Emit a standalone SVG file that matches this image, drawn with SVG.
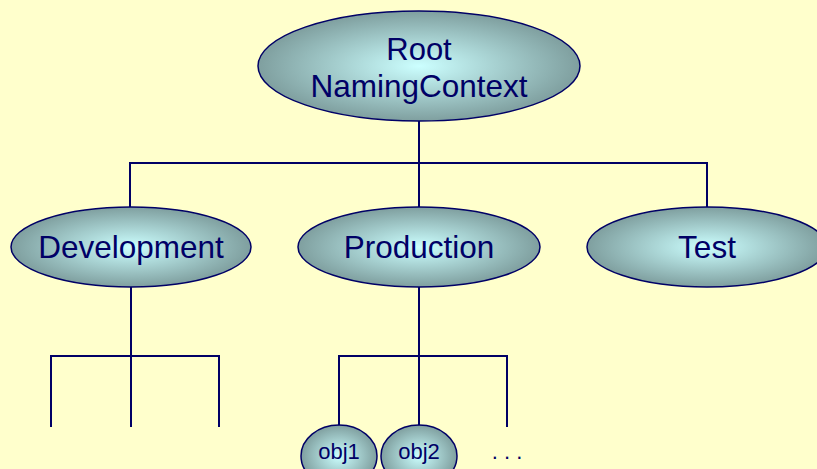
<svg xmlns="http://www.w3.org/2000/svg" width="817" height="469" viewBox="0 0 817 469">
<defs>
<radialGradient id="g" cx="50%" cy="50%" r="50%">
<stop offset="0" stop-color="#ccffff"/>
<stop offset="1" stop-color="#7f9f9f"/>
</radialGradient>
<style>
.n{fill:url(#g);stroke:#000066;stroke-width:1.5}
.t{font-family:"Liberation Sans",Arial,sans-serif;fill:#000066;text-anchor:middle}
.c{fill:none;stroke:#000066;stroke-width:2}
</style>
</defs>
<rect width="817" height="469" fill="#ffffcc"/>
<g id="connectors" class="c">
<path d="M419 121V163M130 207V163H707V207M419 163V207"/>
<path d="M131 287V356M51 427V356H219V427M131 356V427"/>
<path d="M419 287V356M339 426V356H507V427M419 356V426"/>
</g>
<g id="root">
<ellipse class="n" cx="419" cy="66" rx="161" ry="55"/>
<text class="t" x="419" y="60" font-size="31">Root</text>
<text class="t" x="419" y="97" font-size="31.5">NamingContext</text>
</g>
<g id="development">
<ellipse class="n" cx="131" cy="247" rx="120" ry="40"/>
<text class="t" x="131" y="258" font-size="31.5">Development</text>
</g>
<g id="production">
<ellipse class="n" cx="419" cy="247" rx="121" ry="40"/>
<text class="t" x="419" y="258" font-size="31.5">Production</text>
</g>
<g id="test">
<ellipse class="n" cx="707" cy="247" rx="120" ry="40"/>
<text class="t" x="707" y="258" font-size="31.5">Test</text>
</g>
<g id="obj1">
<ellipse class="n" cx="339" cy="456" rx="38" ry="31"/>
<text class="t" x="339" y="459" font-size="22">obj1</text>
</g>
<g id="obj2">
<ellipse class="n" cx="419" cy="456" rx="38" ry="31"/>
<text class="t" x="419" y="459" font-size="22">obj2</text>
</g>
<text class="t" x="507" y="459" font-size="22">. . .</text>
</svg>
